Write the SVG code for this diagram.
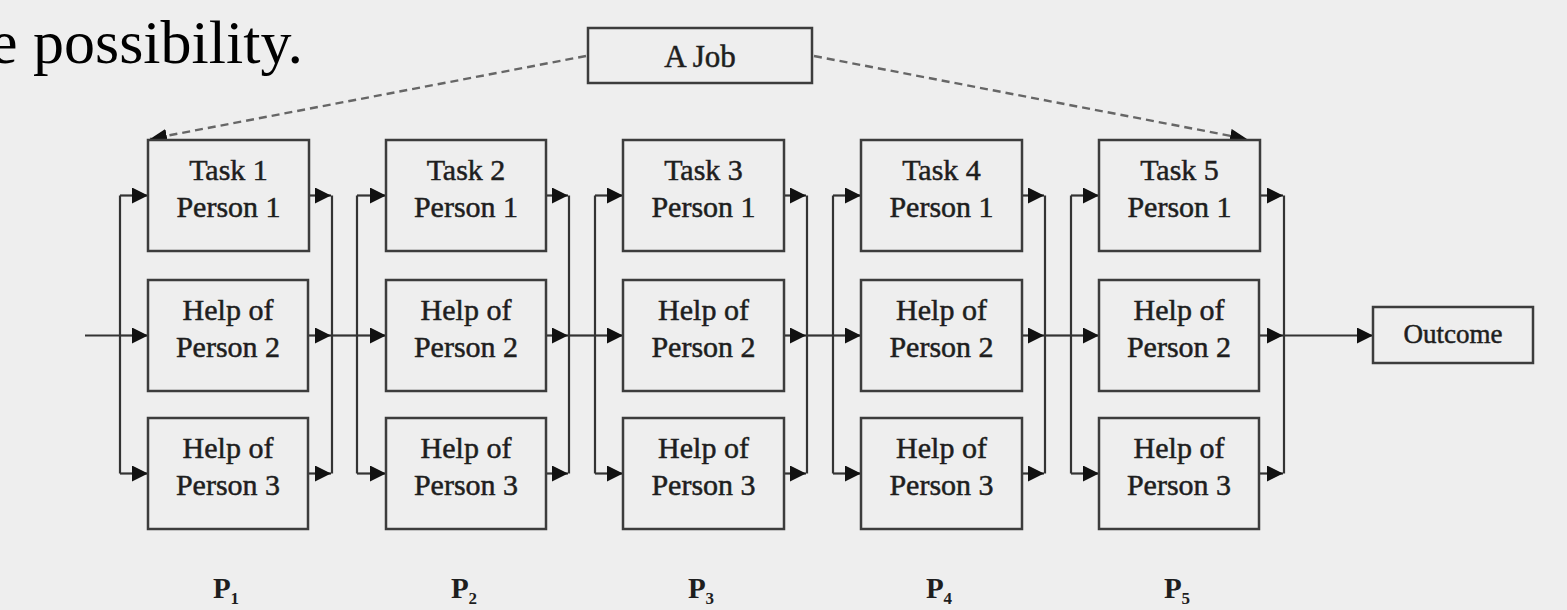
<svg xmlns="http://www.w3.org/2000/svg" width="1567" height="610" viewBox="0 0 1567 610">
<defs>
<style>
.bg{fill:#eeeeee}
.box{fill:#eeeeee;stroke:#3c3c3c;stroke-width:2.5}
.lbl{font-family:"Liberation Serif","Times New Roman",serif;font-size:30px;fill:#1e1e1e;stroke:#1e1e1e;stroke-width:0.5;text-anchor:middle}
.ln{stroke:#333333;stroke-width:2.2;fill:none}
.ar{stroke:#333333;stroke-width:2.2;fill:none;marker-end:url(#ah)}
.dash{stroke:#666666;stroke-width:2.4;fill:none;stroke-dasharray:8 5;marker-end:url(#dh)}
.plbl{font-family:"Liberation Serif","Times New Roman",serif;font-size:29px;font-weight:bold;fill:#1e1e1e;text-anchor:middle}
</style>
<marker id="ah" markerUnits="userSpaceOnUse" markerWidth="16" markerHeight="16" refX="16" refY="8" orient="auto">
<path d="M0,0 L16,8 L0,16 z" fill="#111111"/>
</marker>
<marker id="dh" markerUnits="userSpaceOnUse" markerWidth="18" markerHeight="14" refX="17" refY="7" orient="auto">
<path d="M0,0 L17,7 L0,14 z" fill="#111111"/>
</marker>
</defs>
<rect class="bg" x="0" y="0" width="1567" height="610"/>
<text x="-10" y="63" style="font-family:'Liberation Serif','Times New Roman',serif;font-size:62px;fill:#000">e possibility.</text>

<g id="connectors">
<path class="dash" d="M586,56 L150,139"/>
<path class="dash" d="M814,56 L1247,139"/>
<path class="ln" d="M85,335.5 H120"/>
<path class="ln" d="M120,195.5 V473.5"/>
<path class="ar" d="M120,195.5 H148"/>
<path class="ar" d="M120,335.5 H148"/>
<path class="ar" d="M120,473.5 H148"/>
<path class="ar" d="M309,195.5 H331"/>
<path class="ar" d="M309,335.5 H331"/>
<path class="ar" d="M309,473.5 H331"/>
<path class="ln" d="M332,195.5 V473.5"/>
<path class="ln" d="M332,335.5 H357"/>
<path class="ln" d="M357,195.5 V473.5"/>
<path class="ar" d="M357,195.5 H386"/>
<path class="ar" d="M357,335.5 H386"/>
<path class="ar" d="M357,473.5 H386"/>
<path class="ar" d="M546,195.5 H568"/>
<path class="ar" d="M546,335.5 H568"/>
<path class="ar" d="M546,473.5 H568"/>
<path class="ln" d="M569,195.5 V473.5"/>
<path class="ln" d="M569,335.5 H595"/>
<path class="ln" d="M595,195.5 V473.5"/>
<path class="ar" d="M595,195.5 H623"/>
<path class="ar" d="M595,335.5 H623"/>
<path class="ar" d="M595,473.5 H623"/>
<path class="ar" d="M784,195.5 H806"/>
<path class="ar" d="M784,335.5 H806"/>
<path class="ar" d="M784,473.5 H806"/>
<path class="ln" d="M807,195.5 V473.5"/>
<path class="ln" d="M807,335.5 H833"/>
<path class="ln" d="M833,195.5 V473.5"/>
<path class="ar" d="M833,195.5 H861"/>
<path class="ar" d="M833,335.5 H861"/>
<path class="ar" d="M833,473.5 H861"/>
<path class="ar" d="M1022,195.5 H1044"/>
<path class="ar" d="M1022,335.5 H1044"/>
<path class="ar" d="M1022,473.5 H1044"/>
<path class="ln" d="M1045,195.5 V473.5"/>
<path class="ln" d="M1045,335.5 H1071"/>
<path class="ln" d="M1071,195.5 V473.5"/>
<path class="ar" d="M1071,195.5 H1099"/>
<path class="ar" d="M1071,335.5 H1099"/>
<path class="ar" d="M1071,473.5 H1099"/>
<path class="ar" d="M1260,195.5 H1283"/>
<path class="ar" d="M1260,335.5 H1283"/>
<path class="ar" d="M1260,473.5 H1283"/>
<path class="ln" d="M1284,195.5 V473.5"/>
<path class="ar" d="M1284,335.5 H1373"/>
</g>

<g id="job">
<rect class="box" x="588" y="28" width="224" height="55"/>
<text class="lbl" x="700" y="67" style="font-size:31px">A Job</text>
</g>
<g id="outcome">
<rect class="box" x="1373" y="307" width="160" height="56"/>
<text class="lbl" x="1453" y="343" style="font-size:27px">Outcome</text>
</g>

<g id="task1"><rect class="box" x="148" y="140" width="161" height="111"/><text class="lbl" x="228.5" y="180">Task 1</text><text class="lbl" x="228.5" y="217">Person 1</text></g>
<g id="help2-1"><rect class="box" x="148" y="280" width="160" height="111"/><text class="lbl" x="228" y="320">Help of</text><text class="lbl" x="228" y="357">Person 2</text></g>
<g id="help3-1"><rect class="box" x="148" y="418" width="160" height="111"/><text class="lbl" x="228" y="458">Help of</text><text class="lbl" x="228" y="495">Person 3</text></g>

<g id="task2"><rect class="box" x="386" y="140" width="160" height="111"/><text class="lbl" x="466" y="180">Task 2</text><text class="lbl" x="466" y="217">Person 1</text></g>
<g id="help2-2"><rect class="box" x="386" y="280" width="160" height="111"/><text class="lbl" x="466" y="320">Help of</text><text class="lbl" x="466" y="357">Person 2</text></g>
<g id="help3-2"><rect class="box" x="386" y="418" width="160" height="111"/><text class="lbl" x="466" y="458">Help of</text><text class="lbl" x="466" y="495">Person 3</text></g>

<g id="task3"><rect class="box" x="623" y="140" width="161" height="111"/><text class="lbl" x="703.5" y="180">Task 3</text><text class="lbl" x="703.5" y="217">Person 1</text></g>
<g id="help2-3"><rect class="box" x="623" y="280" width="161" height="111"/><text class="lbl" x="703.5" y="320">Help of</text><text class="lbl" x="703.5" y="357">Person 2</text></g>
<g id="help3-3"><rect class="box" x="623" y="418" width="161" height="111"/><text class="lbl" x="703.5" y="458">Help of</text><text class="lbl" x="703.5" y="495">Person 3</text></g>

<g id="task4"><rect class="box" x="861" y="140" width="161" height="111"/><text class="lbl" x="941.5" y="180">Task 4</text><text class="lbl" x="941.5" y="217">Person 1</text></g>
<g id="help2-4"><rect class="box" x="861" y="280" width="161" height="111"/><text class="lbl" x="941.5" y="320">Help of</text><text class="lbl" x="941.5" y="357">Person 2</text></g>
<g id="help3-4"><rect class="box" x="861" y="418" width="161" height="111"/><text class="lbl" x="941.5" y="458">Help of</text><text class="lbl" x="941.5" y="495">Person 3</text></g>

<g id="task5"><rect class="box" x="1099" y="140" width="161" height="111"/><text class="lbl" x="1179.5" y="180">Task 5</text><text class="lbl" x="1179.5" y="217">Person 1</text></g>
<g id="help2-5"><rect class="box" x="1099" y="280" width="160" height="111"/><text class="lbl" x="1179" y="320">Help of</text><text class="lbl" x="1179" y="357">Person 2</text></g>
<g id="help3-5"><rect class="box" x="1099" y="418" width="160" height="111"/><text class="lbl" x="1179" y="458">Help of</text><text class="lbl" x="1179" y="495">Person 3</text></g>

<g id="p-labels">
<text class="plbl" x="226" y="598">P<tspan font-size="17" dy="6">1</tspan></text>
<text class="plbl" x="464" y="598">P<tspan font-size="17" dy="6">2</tspan></text>
<text class="plbl" x="701" y="598">P<tspan font-size="17" dy="6">3</tspan></text>
<text class="plbl" x="939" y="598">P<tspan font-size="17" dy="6">4</tspan></text>
<text class="plbl" x="1177" y="598">P<tspan font-size="17" dy="6">5</tspan></text>
</g>
</svg>
